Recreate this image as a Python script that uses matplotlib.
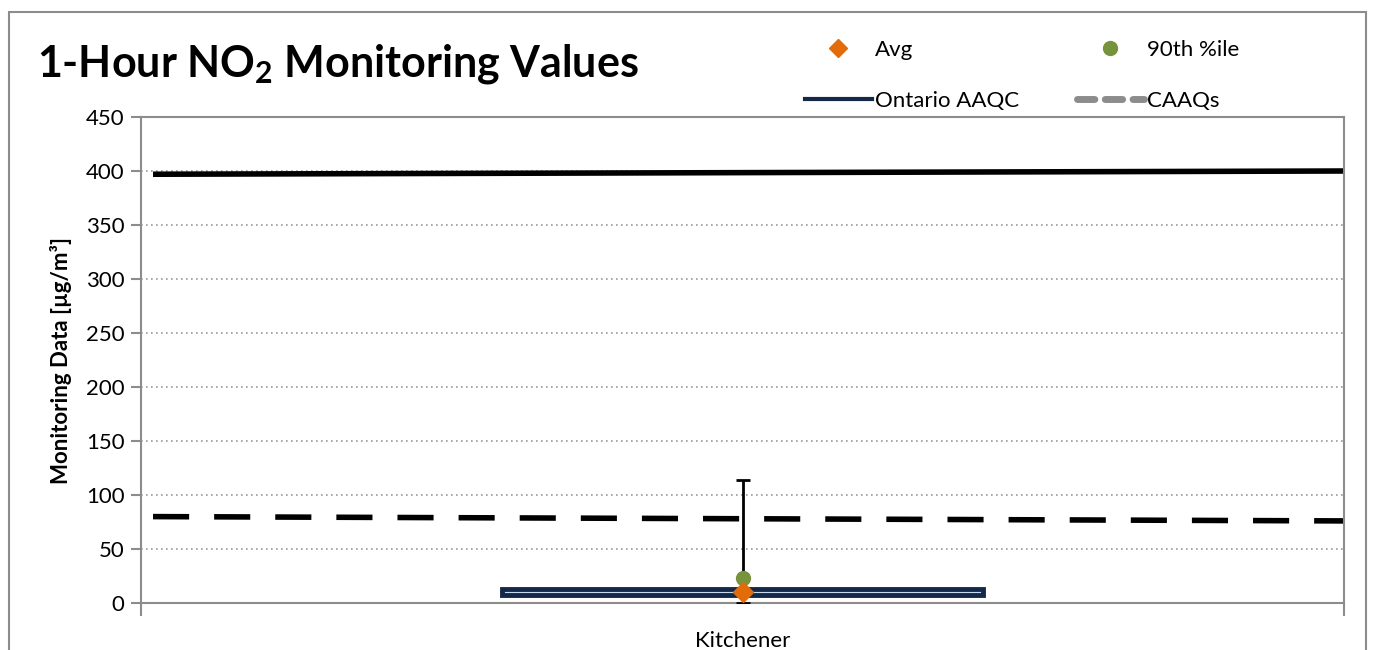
import matplotlib.pyplot as plt
from matplotlib.lines import Line2D
from matplotlib.patches import Rectangle

plt.rcParams['font.family'] = ['Lato', 'DejaVu Sans']

# 1-hour NO2 summary for the station (ug/m3)
station = ['Kitchener']
box_low = [7]
box_high = [13]
whisker_low = [0]
whisker_high = [114]
avg = [10]
pct90 = [23]

# reference levels, drawn across the category
ref_x = [-0.49, 0.5]
ontario_aaqc = [397, 400]
caaqs = [80, 76]

yticks = [0, 50, 100, 150, 200, 250, 300, 350, 400, 450]

navy = '#14294a'
light_blue = '#c6d9f1'
orange = '#e36c09'
green = '#77933c'
grey = '#8c8c8c'

fig = plt.figure(figsize=(13.74, 6.5), dpi=100)
ax = fig.add_axes([141 / 1374, 1 - 603 / 650, 1203 / 1374, 486 / 650])

# outer chart border
fig.patches.append(Rectangle((9 / 1374, -0.1), 1357 / 1374, 1.1 - 12 / 650,
                             transform=fig.transFigure, fill=False,
                             edgecolor=grey, linewidth=1.5))

for y in yticks[1:-1]:
    ax.axhline(y, color='#9a9a9a', linestyle=(0, (1, 2)), linewidth=1.2, zorder=1)

ax.plot(ref_x, ontario_aaqc, color='black', linewidth=4, solid_capstyle='butt', zorder=2)
ax.plot(ref_x, caaqs, color='black', linewidth=4, dashes=(6.5, 4.5),
        dash_capstyle='butt', zorder=2)

xpos = list(range(len(station)))
ax.errorbar(xpos, [whisker_low[0]], yerr=[[0], [whisker_high[0] - whisker_low[0]]],
            fmt='none', ecolor='black', elinewidth=2, capsize=5, capthick=2, zorder=3)
ax.bar(xpos, [h - l for h, l in zip(box_high, box_low)], bottom=box_low, width=0.4,
       color=light_blue, edgecolor=navy, linewidth=3.5, zorder=4)
ax.plot(xpos, pct90, 'o', color=green, markersize=10, zorder=5)
ax.plot(xpos, avg, 'D', color=orange, markersize=10, zorder=6)

ax.set_xlim(-0.5, 0.5)
ax.set_ylim(0, 450)
ax.set_yticks(yticks)
ax.tick_params(axis='y', labelsize=16, length=7, color=grey, width=1.5, pad=5)
ax.set_xticks(xpos)
ax.set_xticklabels(station, fontsize=16)
ax.tick_params(axis='x', length=0, pad=20)
ax.set_xticks([-0.5, 0.5], minor=True)
ax.tick_params(axis='x', which='minor', length=9, color=grey, width=1.5)
for s in ax.spines.values():
    s.set_color(grey)
    s.set_linewidth(1.5)

ax.set_ylabel('Monitoring Data [µg/m³]', fontsize=16, fontweight='bold', labelpad=10)

fig.text(37 / 1374, 1 - 77 / 650, '1-Hour NO$_\\mathregular{2}$ Monitoring Values',
         fontsize=31, fontweight='bold', va='baseline', ha='left')

handles = [
    Line2D([], [], marker='D', color=orange, linestyle='none', markersize=9),
    Line2D([], [], color=navy, linewidth=3),
    Line2D([], [], marker='o', color=green, linestyle='none', markersize=10),
    Line2D([], [], color='#8c8c8c', linewidth=5, dashes=(2.5, 1.5), dash_capstyle='round'),
]
labels = ['Avg', 'Ontario AAQC', '90th %ile', 'CAAQs']
fig.legend(handles, labels, ncol=2, loc='upper left', bbox_to_anchor=(785 / 1374, 1 - 20 / 650),
           frameon=False, fontsize=16, handlelength=3.0, handletextpad=0.15,
           labelspacing=1.4, columnspacing=2.6)

fig.savefig('out.png', dpi=100)
